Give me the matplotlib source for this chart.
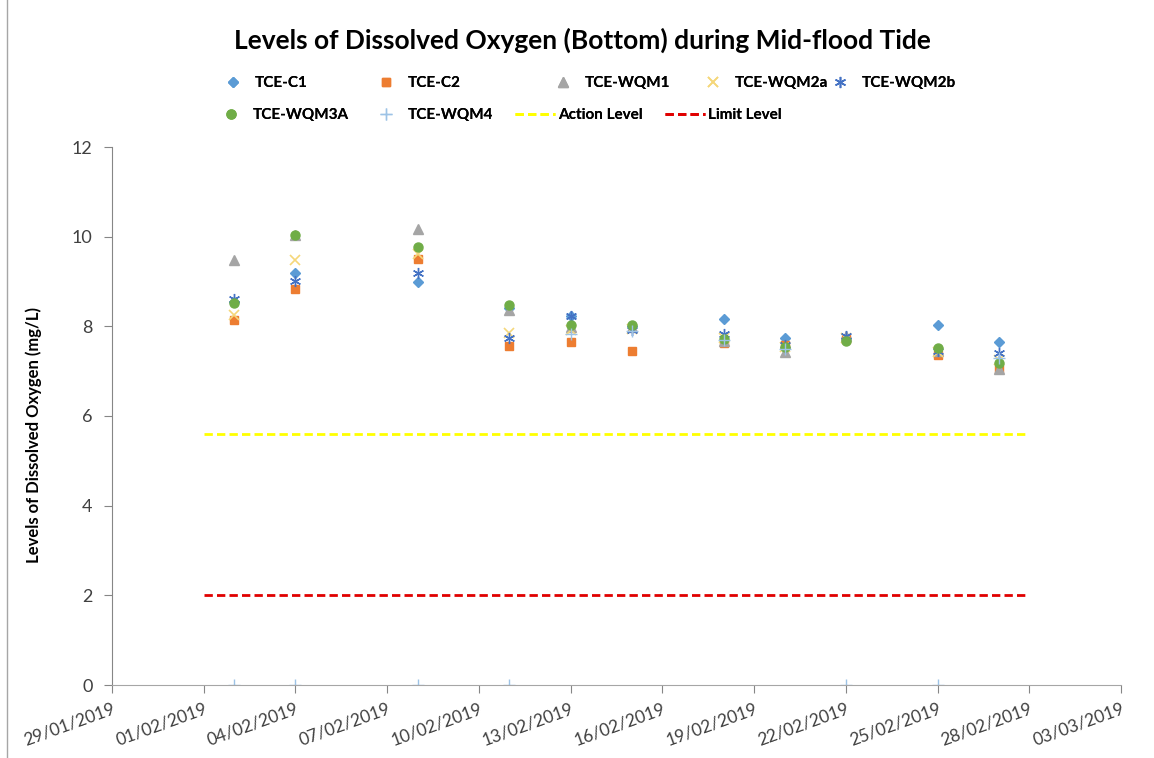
import pandas as pd
import matplotlib
matplotlib.use('Agg')
import matplotlib.pyplot as plt
import matplotlib.dates as mdates
from matplotlib.lines import Line2D

plt.rcParams['font.family'] = ['Lato', 'DejaVu Sans']

# sampling dates and readings (mg/L)
dates = pd.to_datetime(['2019-02-02', '2019-02-04', '2019-02-08', '2019-02-11', '2019-02-13',
                        '2019-02-15', '2019-02-18', '2019-02-20', '2019-02-22', '2019-02-25',
                        '2019-02-27'])
tce_c1 = [8.55, 9.18, 9.00, 8.40, 8.22, 8.00, 8.16, 7.73, 7.75, 8.02, 7.64]
tce_c2 = [8.14, 8.83, 9.51, 7.57, 7.66, 7.45, 7.62, 7.58, 7.72, 7.36, 7.05]
tce_wqm1 = [9.47, 10.03, 10.17, 8.36, 7.98, 7.98, 7.68, 7.42, 7.78, 7.45, 7.05]
tce_wqm2a = [8.25, 9.48, 9.62, 7.86, 7.92, 7.95, 7.74, 7.55, 7.74, 7.42, 7.25]
tce_wqm2b = [8.60, 9.02, 9.20, 7.73, 8.22, 7.92, 7.82, 7.58, 7.78, 7.45, 7.40]
tce_wqm3a = [8.52, 10.04, 9.77, 8.48, 8.02, 8.03, 7.72, 7.55, 7.68, 7.52, 7.18]
tce_wqm4 = [0, 0, 0, 0, 7.84, 7.90, 7.70, 7.50, 0, 0, 7.30]

level_dates = pd.to_datetime(['2019-02-01', '2019-02-28'])
action_level = [5.6, 5.6]
limit_level = [2.0, 2.0]

W, H = 1154, 758
fig = plt.figure(figsize=(W / 100, H / 100), dpi=100, facecolor='white')
ax = fig.add_axes([112 / W, 73 / H, 1009 / W, 538 / H])

s1 = ax.plot(dates, tce_c1, 'D', color='#5B9BD5', ms=5.5, ls='none', label='TCE-C1')[0]
s2 = ax.plot(dates, tce_c2, 's', color='#ED7D31', ms=6, ls='none', label='TCE-C2')[0]
s3 = ax.plot(dates, tce_wqm1, '^', color='#A5A5A5', ms=7, ls='none', label='TCE-WQM1')[0]
s4 = ax.plot(dates, tce_wqm2a, 'x', color='#F5D77A', ms=7, mew=1.2, ls='none', label='TCE-WQM2a')[0]
s5 = ax.plot(dates, tce_wqm2b, marker=(6, 2, 0), color='#4472C4', ms=8, mew=1.0, ls='none',
             label='TCE-WQM2b')[0]
s6 = ax.plot(dates, tce_wqm3a, 'o', color='#70AD47', ms=6.5, ls='none', label='TCE-WQM3A')[0]
s7 = ax.plot(dates, tce_wqm4, '+', color='#9DC3E6', ms=8, mew=1.0, ls='none', label='TCE-WQM4')[0]
l1 = ax.plot(level_dates, action_level, '--', color='#FFFF00', lw=2, dashes=(3, 1.5),
             label='Action Level')[0]
l2 = ax.plot(level_dates, limit_level, '--', color='#E00000', lw=2, dashes=(3, 1.5),
             label='Limit Level')[0]

ax.set_xlim(pd.Timestamp('2019-01-29'), pd.Timestamp('2019-03-03'))
ax.set_ylim(0, 12)
ax.set_yticks(range(0, 13, 2))
ax.xaxis.set_major_formatter(mdates.DateFormatter('%d/%m/%Y'))
ax.set_xticks(pd.date_range('2019-01-29', '2019-03-03', freq='3D'))

for sp in ['top', 'right']:
    ax.spines[sp].set_visible(False)
ax.spines['left'].set_color('#868686')
ax.spines['bottom'].set_color('#A6A6A6')
ax.tick_params(axis='y', colors='#868686', labelcolor='#404040', labelsize=13, length=6, pad=8)
ax.tick_params(axis='x', colors='#868686', labelcolor='#404040', labelsize=12.5, length=6,
               rotation=20, pad=5)
for lbl in ax.get_xticklabels():
    lbl.set_ha('right')
    lbl.set_rotation_mode('anchor')

ax.set_ylabel('Levels of Dissolved Oxygen (mg/L)', fontsize=12, fontweight='bold')
ax.yaxis.set_label_coords(-0.069, 0.465)

fig.text(0.505, 0.947, 'Levels of Dissolved Oxygen (Bottom) during Mid-flood Tide', ha='center',
         va='center', fontsize=19, fontweight='bold', color='#000000')

# legend entries placed one by one, like the Excel flow layout
fs = 11
em = fs * 100 / 72


def add_entry(handle, text_x, y_px, hlen, pad):
    left = text_x - (hlen + pad) * em
    leg = fig.legend(handles=[handle], loc='center left', bbox_to_anchor=(left / W, 1 - y_px / H),
                     frameon=False, handlelength=hlen, handletextpad=pad, borderpad=0,
                     borderaxespad=0, prop={'size': fs, 'weight': 'bold'})
    fig.add_artist(leg)


for h, tx in [(s1, 255), (s2, 408), (s3, 585), (s4, 735), (s5, 862)]:
    add_entry(h, tx, 83, 1.0, 0.95)
for h, tx in [(s6, 253), (s7, 408)]:
    add_entry(h, tx, 115, 1.0, 0.95)
for h, tx in [(l1, 558), (l2, 708)]:
    add_entry(h, tx, 115, 2.6, 0.2)

fig.add_artist(Line2D([7 / W, 7 / W], [0, 1], color='#A6A6A6', lw=1))

fig.savefig('out.png', dpi=100)
